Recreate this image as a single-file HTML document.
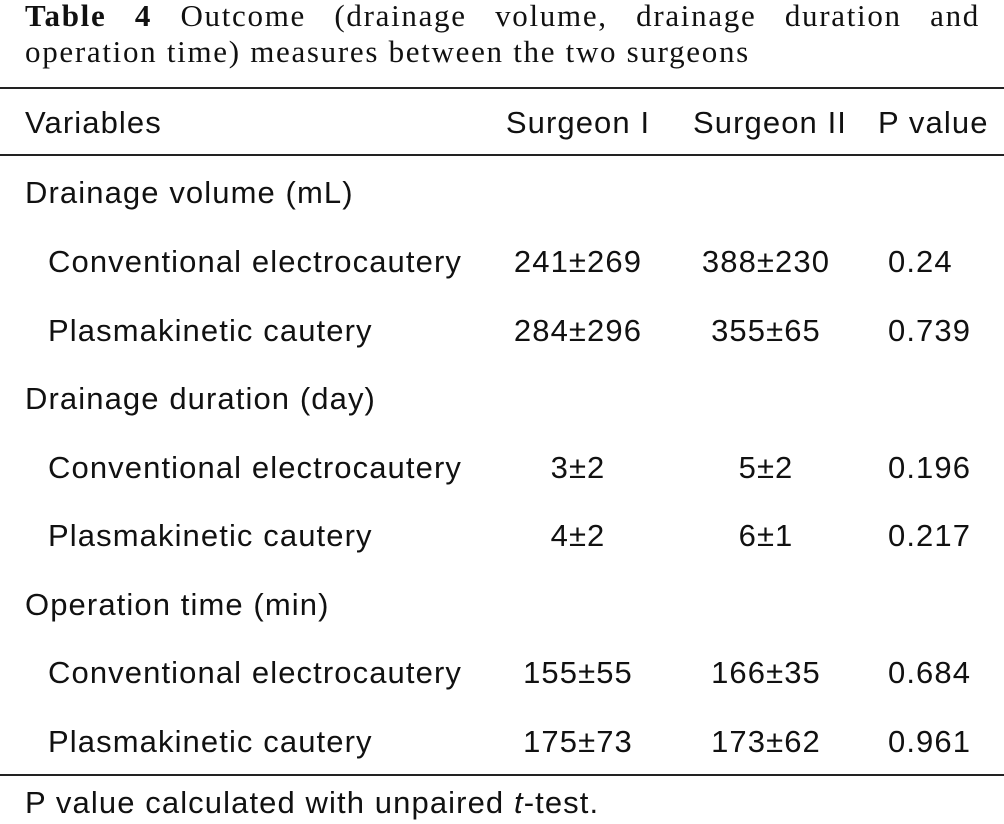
<!DOCTYPE html>
<html><head><meta charset="utf-8"><style>
body{margin:0;width:1004px;height:824px;background:#fff;position:relative;overflow:hidden;color:#111}
.t{position:absolute;font-family:"Liberation Sans",sans-serif;font-size:31px;line-height:31px;letter-spacing:1.1px;white-space:nowrap}
.c{transform:translateX(-50%)}
.rule{position:absolute;left:0;width:1004px;height:2px;background:#222}
.ti{position:absolute;left:25px;width:955px;font-family:"Liberation Serif",serif;font-size:31px;line-height:36px;letter-spacing:1.7px;text-align:justify;text-align-last:left;white-space:nowrap}
</style></head><body>
<div class="ti" style="top:-2px;text-align-last:justify;white-space:normal"><b>Table 4</b> Outcome (drainage volume, drainage duration and</div>
<div class="ti" style="top:34px">operation time) measures between the two surgeons</div>
<div class="rule" style="top:87px"></div>
<div class="rule" style="top:154px"></div>
<div class="rule" style="top:774px"></div>
<script>
const labels=["Drainage volume (mL)","Conventional electrocautery","Plasmakinetic cautery","Drainage duration (day)","Conventional electrocautery","Plasmakinetic cautery","Operation time (min)","Conventional electrocautery","Plasmakinetic cautery"];
const s1=["","241±269","284±296","","3±2","4±2","","155±55","175±73"];
const s2=["","388±230","355±65","","5±2","6±1","","166±35","173±62"];
const pv=["","0.24","0.739","","0.196","0.217","","0.684","0.961"];
const baselines=[203,272,341,409,478,546,615,683,752];
function mk(txt,x,b,cls,name){const d=document.createElement('div');d.className='t '+cls;d.style.left=x+'px';d.style.top=(b-26)+'px';d.innerHTML=txt;


document.body.appendChild(d);}
mk("Variables",25,133,"","header-variables");
mk("Surgeon I",578,133,"c","header-surgeon-1");
mk("Surgeon II",770,133,"c","header-surgeon-2");
mk("P value",878,133,"","header-p-value");
labels.forEach((l,i)=>{const sub=s1[i]!=="";mk(l,sub?48:25,baselines[i],"",sub?"row-label":"group-label");
if(sub){mk(s1[i],578,baselines[i],"c","surgeon-1-value");mk(s2[i],766,baselines[i],"c","surgeon-2-value");mk(pv[i],888,baselines[i],"","p-value");}});
mk("P value calculated with unpaired <i>t</i>-test.",25,813,"","footnote");
</script>
</body></html>
